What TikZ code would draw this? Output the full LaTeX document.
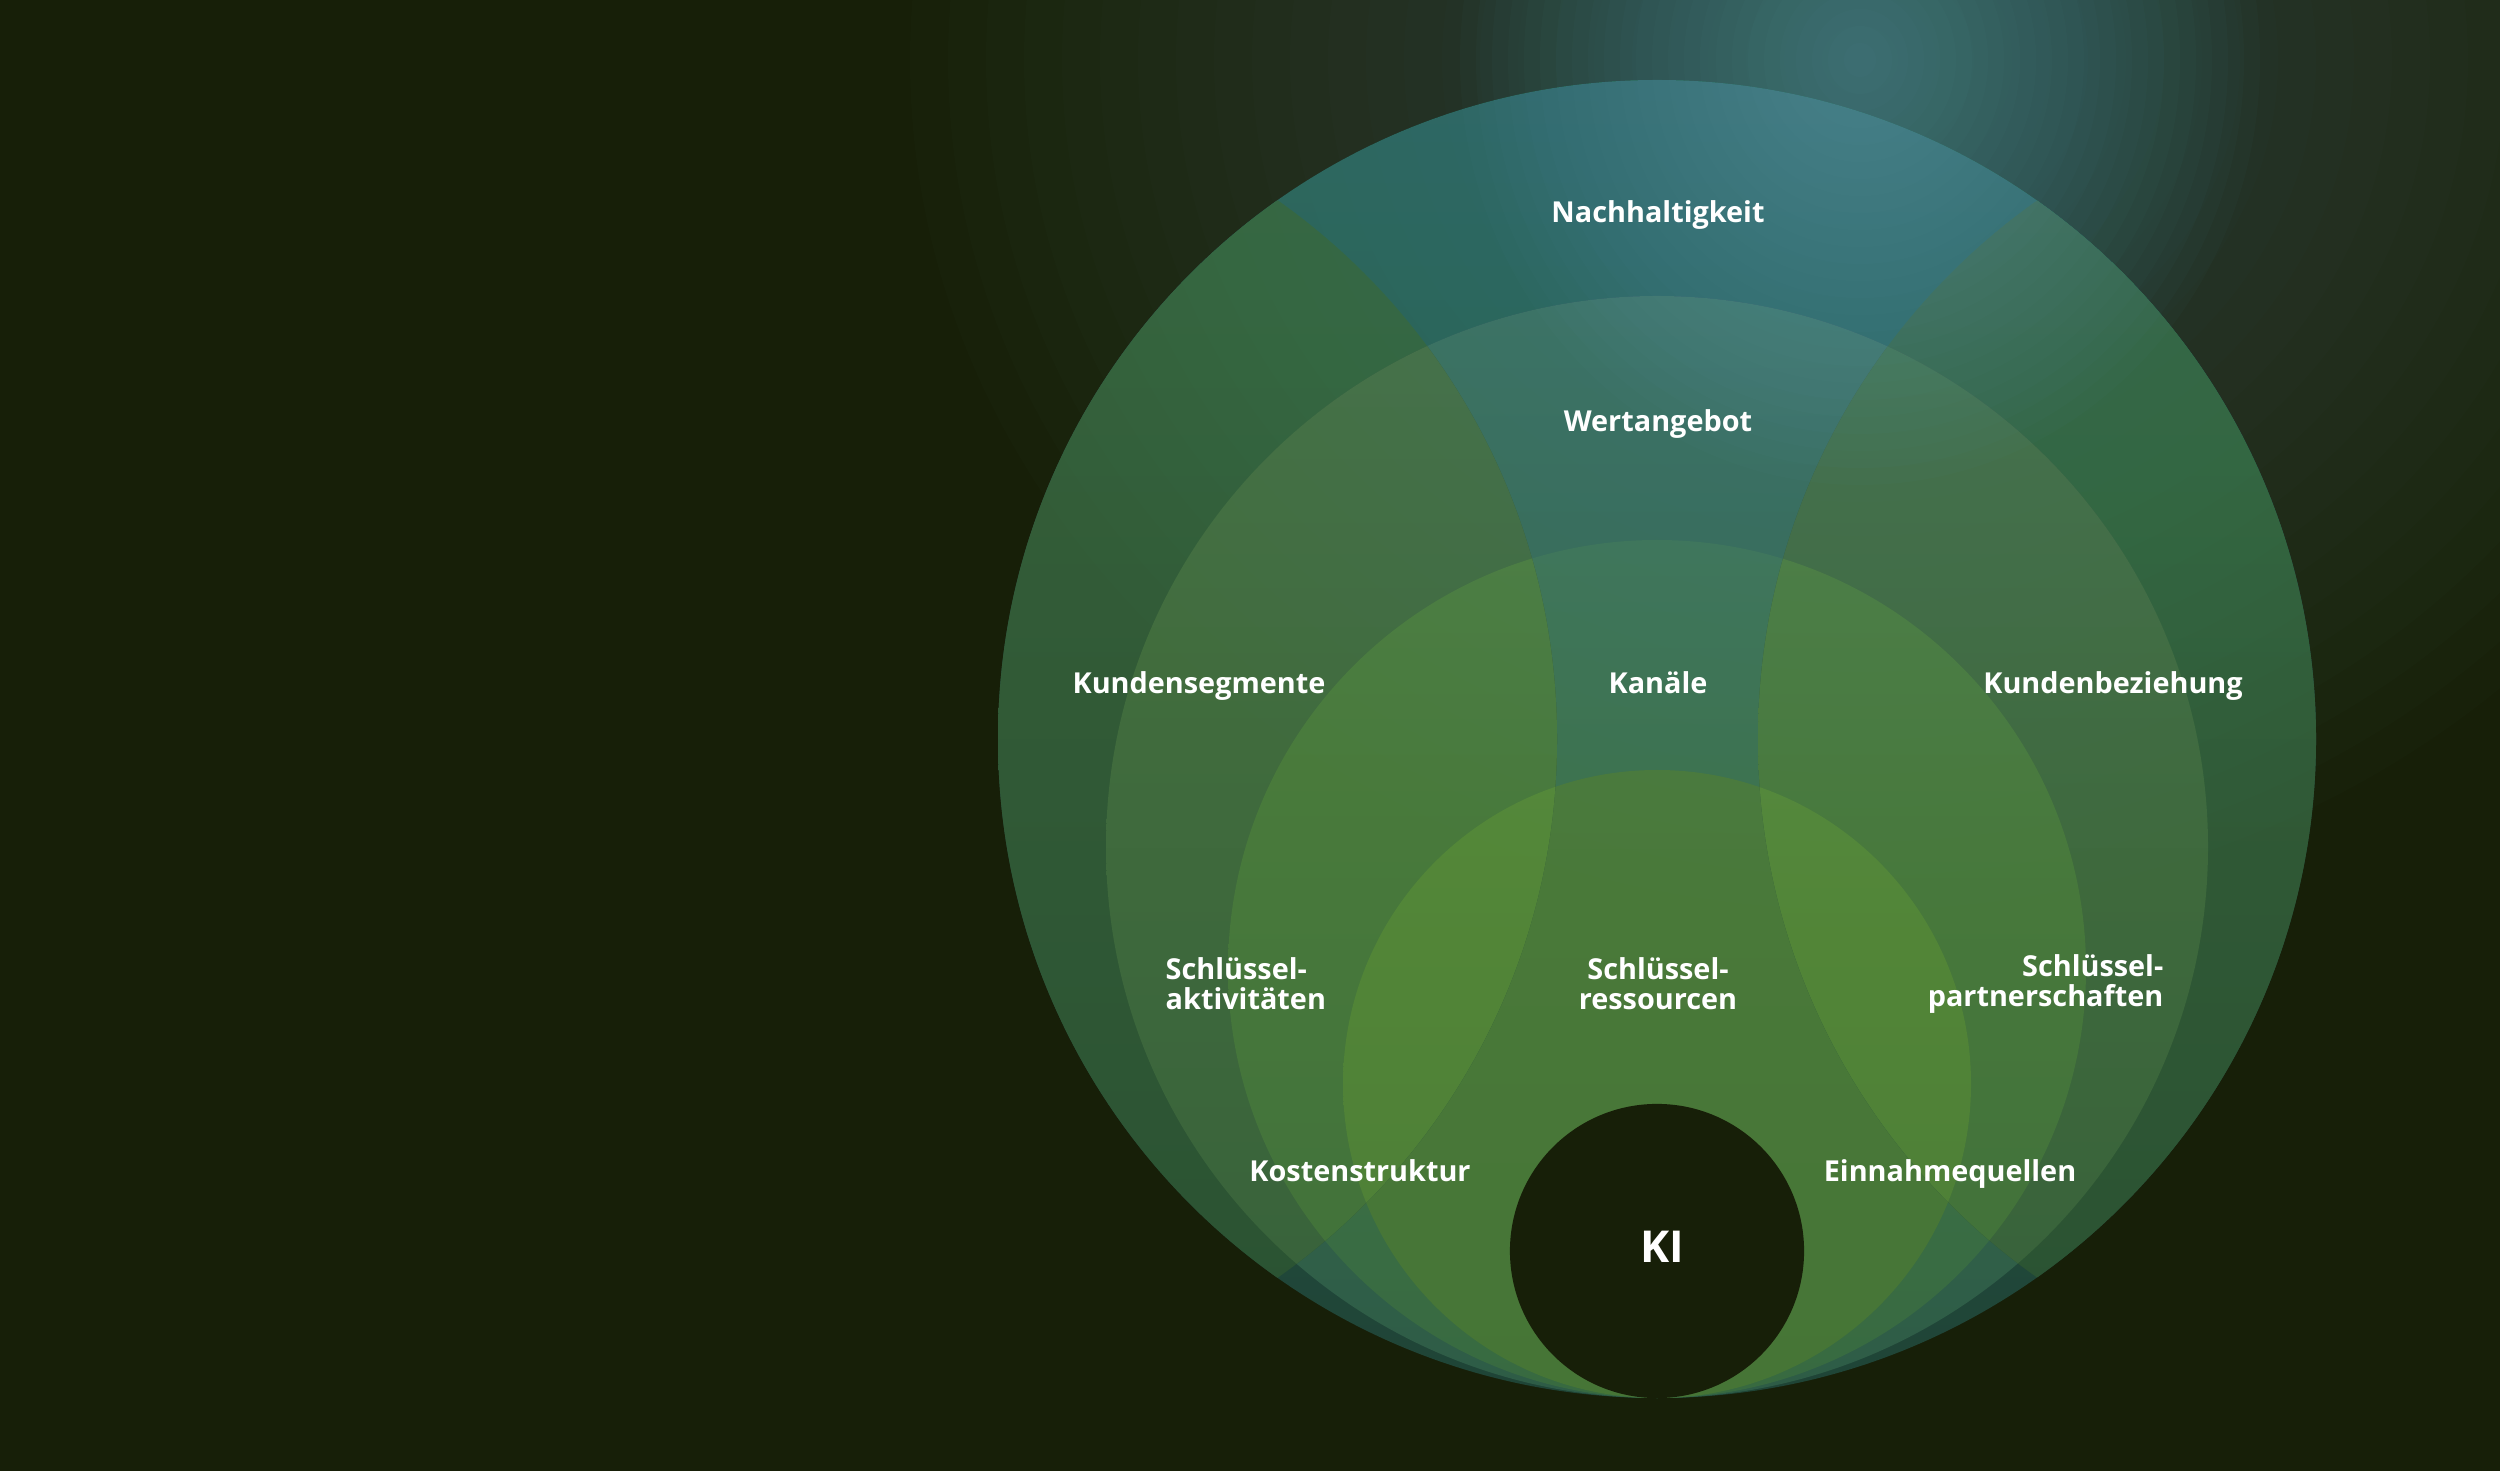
\documentclass[tikz,border=0pt]{standalone}
\usepackage{fontspec}
\setmainfont{Open Sans}
\usepackage{tikz}
\usetikzlibrary{positioning}
\usepackage{xcolor}

\definecolor{bgdark}{HTML}{171F08}
\definecolor{ringAt}{HTML}{2E5F56}
\definecolor{ringAb}{HTML}{1F4436}
\definecolor{ringBt}{HTML}{3C7358}
\definecolor{ringBb}{HTML}{2E5C46}
\definecolor{ringCt}{HTML}{3F7652}
\definecolor{ringCb}{HTML}{386A40}
\definecolor{ringDt}{HTML}{4A7A3A}
\definecolor{ringDb}{HTML}{467536}
\definecolor{luneAt}{HTML}{37613A}
\definecolor{luneAb}{HTML}{2A5232}
\definecolor{luneBt}{HTML}{46723F}
\definecolor{luneBb}{HTML}{37613A}
\definecolor{luneCt}{HTML}{4C7E3C}
\definecolor{luneCb}{HTML}{40703A}
\definecolor{luneDt}{HTML}{548838}
\definecolor{luneDb}{HTML}{4C7D36}
\definecolor{glowcol}{HTML}{62A6B0}

\begin{document}
\begin{tikzpicture}[
  x=0.01cm, y=-0.01cm,
  lbl/.style={text=white, font=\fontsize{8.2}{8.6}\selectfont\bfseries, inner sep=0pt, align=center},
  kinode/.style={circle, fill=bgdark, minimum size=2.94cm, inner sep=0pt}
]

% Background
\fill[bgdark] (0,0) rectangle (2500,1471);
\useasboundingbox (0,0) rectangle (2500,1471);

% Nested rings, all touching at the bottom
\foreach \cy/\r/\ct/\cb in {739/659/ringAt/ringAb, 847/551/ringBt/ringBb,
                             969/429/ringCt/ringCb, 1084/314/ringDt/ringDb}
  \shade[top color=\ct, bottom color=\cb] (1657,\cy) circle[radius=\r];

% Left lune
\begin{scope}
  \clip (898,739) circle[radius=659];
  \foreach \cy/\r/\ct/\cb in {739/659/luneAt/luneAb, 847/551/luneBt/luneBb,
                               969/429/luneCt/luneCb, 1084/314/luneDt/luneDb}
    \shade[top color=\ct, bottom color=\cb] (1657,\cy) circle[radius=\r];
\end{scope}

% Right lune
\begin{scope}
  \clip (2417,739) circle[radius=659];
  \foreach \cy/\r/\ct/\cb in {739/659/luneAt/luneAb, 847/551/luneBt/luneBb,
                               969/429/luneCt/luneCb, 1084/314/luneDt/luneDb}
    \shade[top color=\ct, bottom color=\cb] (1657,\cy) circle[radius=\r];
\end{scope}

% Glow at the top (stacked soft ellipses)
\foreach \k in {1,...,25}
  \fill[glowcol, opacity=0.014] (1860,60) ellipse[x radius=38*\k, y radius=34*\k];
\foreach \k in {1,...,25}
  \fill[glowcol, opacity=0.03] (1860,60) ellipse[x radius=16*\k, y radius=17*\k];

% Labels
\node[lbl, anchor=base] (nachhaltigkeit) at (1658,223) {Nachhaltigkeit};
\node[lbl, anchor=base] (wertangebot) at (1658,432) {Wertangebot};
\node[lbl, anchor=base] (kanaele) at (1658,694) {Kanäle};
\node[lbl, anchor=base] (segmente) at (1199,694) {Kundensegmente};
\node[lbl, anchor=base] (beziehung) at (2113,694) {Kundenbeziehung};
\node[lbl, align=left, anchor=west] (aktivitaeten) at (1165,984) {Schlüssel-\\aktivitäten};
\node[lbl] (ressourcen) at (1658,984) {Schlüssel-\\ressourcen};
\node[lbl, align=right, anchor=east] (partner) at (2164,984) {Schlüssel-\\partnerschaften};
\node[lbl, anchor=base] (kosten) at (1360,1182) {Kostenstruktur};
\node[lbl, anchor=base] (einnahmen) at (1950,1182) {Einnahmequellen};

% Core
\node[kinode] (ki) at (1657,1251) {};
\node[lbl, font=\fontsize{12.5}{14}\selectfont\bfseries] (kitext) at (1662,1247) {KI};

\end{tikzpicture}
\end{document}
